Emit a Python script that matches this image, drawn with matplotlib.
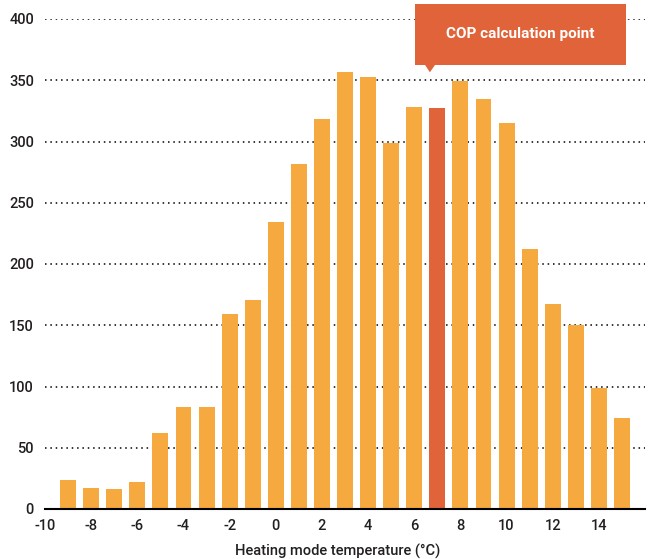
import matplotlib.pyplot as plt
from matplotlib.patches import Rectangle, Polygon

temps = list(range(-9, 16))
hours = [24, 17, 16, 22, 62, 83, 83, 159, 171, 234, 282, 318, 357, 353,
         299, 328, 327, 349, 335, 315, 212, 167, 150, 99, 74]
cop_temp = 7
xticks = list(range(-10, 16, 2))
yticks = list(range(0, 401, 50))

bar_color = '#F6A93E'
hi_color = '#E1633A'
txt_color = '#231F20'

plt.rcParams['font.family'] = ['Roboto', 'DejaVu Sans']
plt.rcParams['axes.unicode_minus'] = False

fig = plt.figure(figsize=(6.53, 5.59), dpi=100)
ax = fig.add_axes([45 / 653, 1 - 509 / 559, 600 / 653, 490 / 559])

colors = [hi_color if t == cop_temp else bar_color for t in temps]
ax.bar(temps, hours, width=0.69, color=colors, zorder=2)

ax.set_xlim(-10, 16)
ax.set_ylim(0, 400)
ax.set_xticks(xticks)
ax.set_yticks(yticks)
ax.tick_params(length=0, labelsize=10.5, labelcolor=txt_color, pad=7)
ax.tick_params(axis='y', pad=8)
for lab in ax.get_xticklabels() + ax.get_yticklabels():
    lab.set_fontweight('medium')

for y in yticks[1:]:
    ax.axhline(y, color='black', lw=1.1, ls=(0, (1, 2.5)), zorder=1)

for s in ['top', 'right', 'left']:
    ax.spines[s].set_visible(False)
ax.spines['bottom'].set_linewidth(1.5)
ax.spines['bottom'].set_color('black')

ax.set_xlabel('Heating mode temperature (°C)', fontsize=10.5, color=txt_color,
              fontweight='medium', x=0.488, labelpad=8)

# callout box
ax.add_patch(Rectangle((6.03, 362.5), 9.14, 50, facecolor=hi_color,
                       edgecolor='none', clip_on=False, zorder=3))
ax.add_patch(Polygon([(6.45, 363), (6.92, 363), (6.68, 356.5)], closed=True,
                     facecolor=hi_color, edgecolor='none', clip_on=False, zorder=3))
ax.text(10.6, 387.5, 'COP calculation point', color='white', fontsize=11,
        fontweight='bold', ha='center', va='center', zorder=4)

fig.savefig('out.png', dpi=100)
